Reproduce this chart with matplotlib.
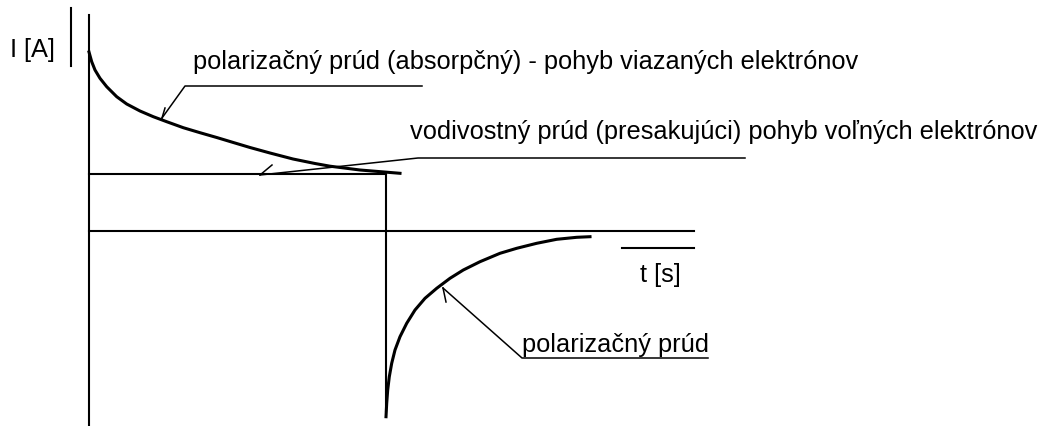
# Priebeh prudu v izolante po pripojeni a odpojeni napatia
import matplotlib.pyplot as plt

plt.rcParams['font.family'] = ['Liberation Sans', 'DejaVu Sans']

# Data (odcitane z obrazka, t v lubovolnych jednotkach)

# nabijanie - polarizacny prud (absorpcny)
t_nab = [0, 0.027, 0.06, 0.11, 0.177, 0.277, 0.377, 0.51, 0.643, 0.777, 0.943,
         1.11, 1.277, 1.443, 1.61, 1.81, 2.04, 2.26, 2.41, 2.71, 3.11]
i_nab = [1.79, 1.693, 1.61, 1.527, 1.443, 1.343, 1.27, 1.20, 1.143, 1.093, 1.033,
         0.983, 0.935, 0.885, 0.835, 0.78, 0.72, 0.675, 0.648, 0.61, 0.577]

# vybijanie - polarizacny prud po odpojeni
t_vyb = [2.97, 2.977, 2.987, 3.003, 3.027, 3.06, 3.11, 3.177, 3.26, 3.36, 3.477,
         3.61, 3.743, 3.91, 4.11, 4.277, 4.477, 4.677, 4.877, 5.01]
i_vyb = [-1.857, -1.723, -1.59, -1.457, -1.323, -1.19, -1.057, -0.923, -0.79, -0.673, -0.573,
         -0.473, -0.39, -0.307, -0.223, -0.173, -0.123, -0.083, -0.063, -0.057]

# vodivostny prud a okamih odpojenia
i_vod = 0.57
t_odp = 2.97
t_max = 6.05

# Popisy
popisy = ['polarizačný prúd (absorpčný) - pohyb viazaných elektrónov',
          'vodivostný prúd (presakujúci) pohyb voľných elektrónov',
          'polarizačný prúd']
# kazdy odkaz: hrot, zalomenie, koniec ciary, koniec osticky
odkazy = [[(0.73, 1.13), (0.96, 1.45), (3.33, 1.45), (0.76, 1.23)],
          [(1.71, 0.56), (3.29, 0.73), (6.56, 0.73), (1.83, 0.66)],
          [(3.54, -0.57), (4.33, -1.27), (6.19, -1.27), (3.57, -0.71)]]
pozicie_textu = [(1.04, 1.69), (3.21, 0.99), (4.33, -1.14)]

# Graf

fig = plt.figure(figsize=(10.42, 4.26), dpi=100)
ax = fig.add_axes([0, 0, 1, 1])
ax.set_xlim(-0.89, 9.53)
ax.set_ylim(-1.95, 2.31)
ax.axis('off')

k = 'black'
# osi
ax.plot([0, 0], [2.16, -1.95], c=k, lw=1.5)
ax.plot([0, t_max], [0, 0], c=k, lw=1.5)
ax.plot([-0.18, -0.18], [2.23, 1.65], c=k, lw=1.5)
ax.plot([5.33, t_max], [-0.17, -0.17], c=k, lw=1.5)

# vodivostny prud a odpojenie
ax.plot([0, t_odp], [i_vod, i_vod], c=k, lw=1.5)
ax.plot([t_odp, t_odp], [i_vod, -1.8], c=k, lw=1.5)

# krivky
ax.plot(t_nab, i_nab, c=k, lw=2.2, solid_joinstyle='round')
ax.plot(t_vyb, i_vyb, c=k, lw=2.2, solid_joinstyle='round')

# odkazy s popismi
for text, odk, poz in zip(popisy, odkazy, pozicie_textu):
    hrot, zlom, koniec, ostica = odk
    ax.plot([hrot[0], zlom[0], koniec[0]], [hrot[1], zlom[1], koniec[1]], c=k, lw=1.1)
    ax.plot([hrot[0], ostica[0]], [hrot[1], ostica[1]], c=k, lw=1.1)
    ax.text(poz[0], poz[1], text, fontsize=18.3, va='center', ha='left')

ax.text(-0.57, 1.81, 'I [A]', fontsize=18.3, va='center', ha='center')
ax.text(5.71, -0.44, 't [s]', fontsize=18.3, va='center', ha='center')

plt.savefig('out.png', dpi=100)
